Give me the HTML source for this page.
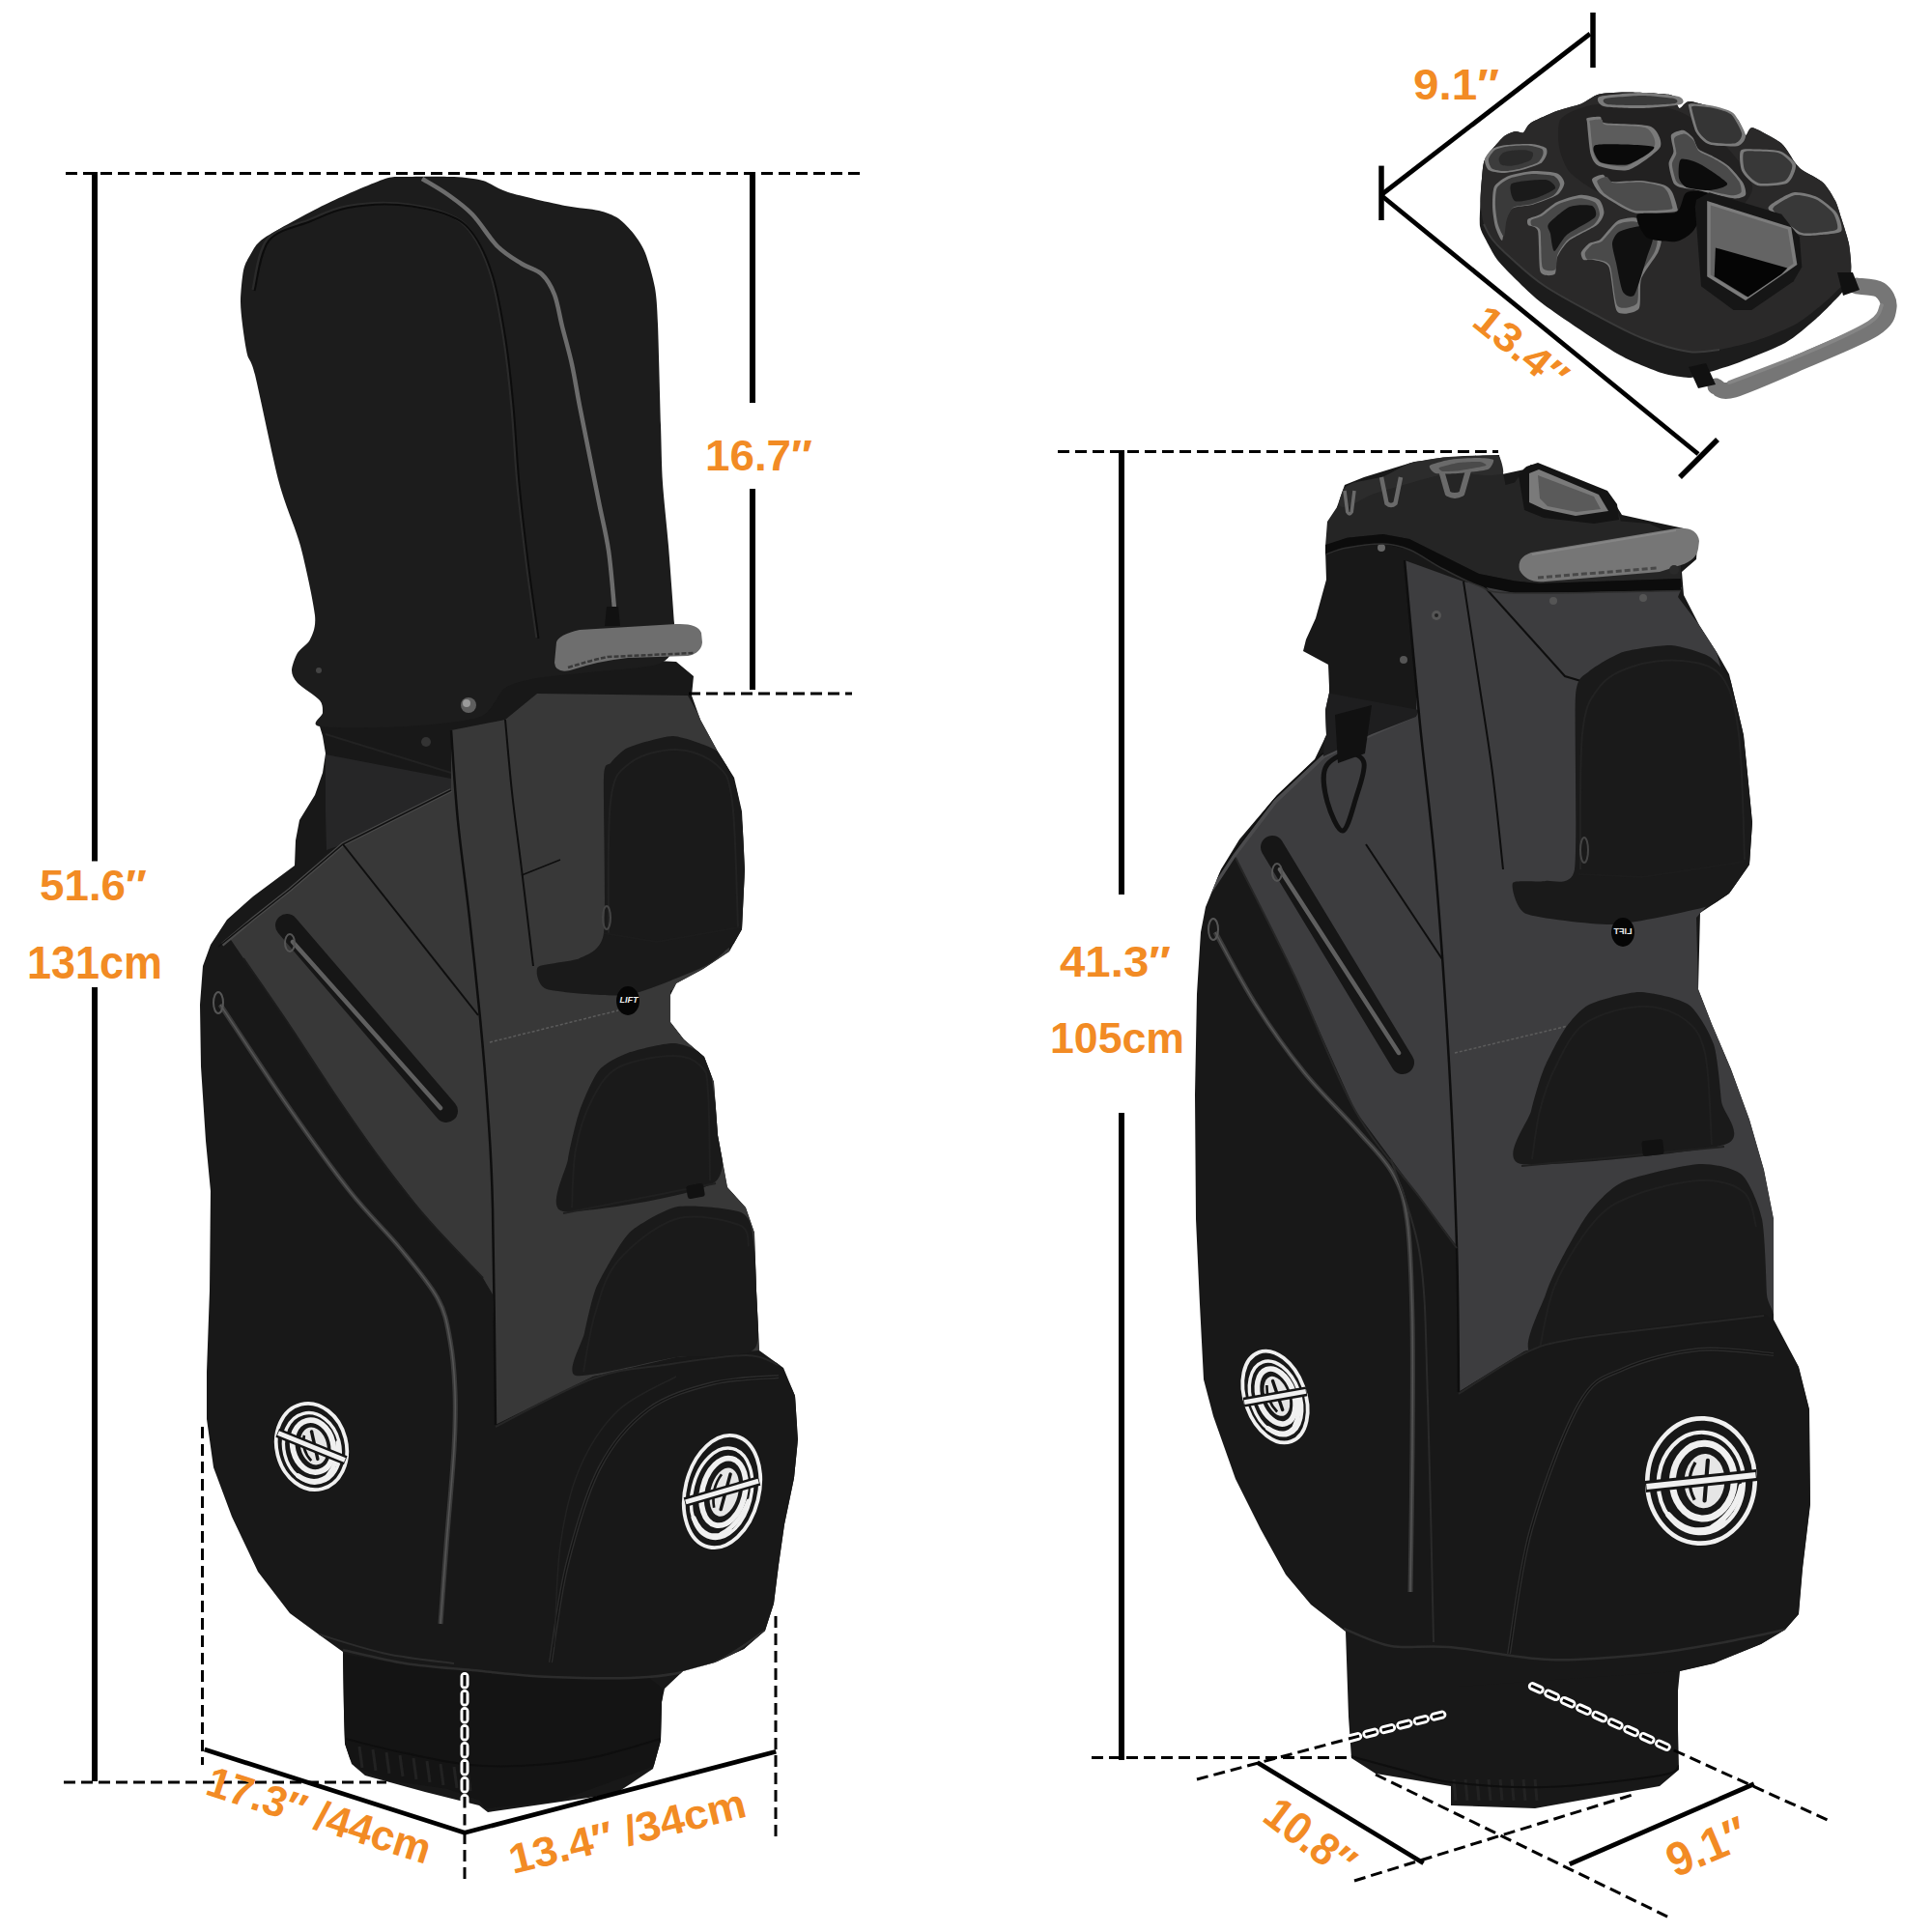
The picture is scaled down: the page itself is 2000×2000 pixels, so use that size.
<!DOCTYPE html>
<html><head><meta charset="utf-8"><style>
html,body{margin:0;padding:0;background:#fff;}
body{width:2000px;height:2000px;overflow:hidden;font-family:"Liberation Sans",sans-serif;}
svg{display:block;}
</style></head><body>
<svg xmlns="http://www.w3.org/2000/svg" width="2000" height="2000" viewBox="0 0 2000 2000">
<rect width="2000" height="2000" fill="#fff"/>
<path d="M331,752 L334,762 L337,780 L334,800 L326,823 L310,849 L306,870 L305,896 L262,928 L235,952 L218,978 L210,1000 L207,1040 L208,1104 L213,1181 L218,1233 L217,1336 L214,1420 L214,1469 L221,1519 L240,1570 L267,1627 L300,1670 L330,1692 L355,1710 L356,1772 L357,1805 L364,1826 L378,1838 L440,1855 L496,1869 L505,1876 L637,1857 L676,1831 L684,1802 L685,1762 L688,1748 L707,1730 L740,1721 L770,1707 L792,1688 L801,1660 L806,1620 L812,1578 L822,1530 L826,1490 L823,1445 L811,1416 L786,1398 L783,1336 L781,1276 L772,1250 L753,1229 L743,1175 L739,1120 L729,1094 L708,1076 L694,1058 L694,1030 L700,1018 L728,1003 L755,985 L768,962 L771,900 L768,840 L760,805 L743,778 L725,745 L716,720 L718,700 L700,685 L600,680 L540,680 L500,700 L420,720 L340,740Z" fill="#181818" />
<path d="M249,311 C249.1,303.5 250.7,286.3 252,280 C253.3,273.7 256.1,268.5 259,264 C261.9,259.5 263.7,252.9 274,246 C284.3,239.1 319.7,220.0 336,212 C352.3,204.0 384.9,189.9 396,186 C407.1,182.1 409.1,183.4 419,183 C428.9,182.6 459.2,182.5 470,183 C480.8,183.5 492.5,184.9 500,187 C507.5,189.1 514.7,195.5 526,199 C537.3,202.5 572.5,210.5 585,213 C597.5,215.5 612.7,216.3 620,218 C627.3,219.7 635.2,222.8 640,226 C644.8,229.2 652.3,237.2 656,242 C659.7,246.8 665.1,254.5 668,262 C670.9,269.5 676.3,288.1 678,298 C679.7,307.9 680.2,317.1 681,336 C681.8,354.9 683.3,418.1 684,440 C684.7,461.9 684.9,483.3 686,500 C687.1,516.7 690.4,545.7 692,565 C693.6,584.3 697.1,631.3 698,645 C698.9,658.7 701.4,662.3 699,668 C696.6,673.7 693.2,684.1 680,688 C666.8,691.9 616.5,695.1 600,697 C583.5,698.9 566.3,700.0 556,702 C545.7,704.0 530.9,706.7 523,712 C515.1,717.3 510.7,736.7 497,742 C483.3,747.3 442.1,750.7 420,752 C397.9,753.3 342.5,753.9 331,752 C319.5,750.1 334.0,741.6 334,738 C334.0,734.4 334.5,729.1 331,725 C327.5,720.9 311.9,711.1 308,707 C304.1,702.9 302.0,698.1 302,694 C302.0,689.9 305.5,680.3 308,676 C310.5,671.7 318.6,667.2 321,662 C323.4,656.8 327.3,649.9 326,637 C324.7,624.1 315.9,583.3 311,565 C306.1,546.7 295.3,523.6 289,500 C282.7,476.4 268.4,405.7 264,388 C259.6,370.3 257.7,373.9 256,367 C254.3,360.1 251.9,343.5 251,336 C250.1,328.5 248.9,318.5 249,311Z" fill="#1c1c1c" />
<clipPath id="cL"><path d="M331,752 L334,762 L337,780 L334,800 L326,823 L310,849 L306,870 L305,896 L262,928 L235,952 L218,978 L210,1000 L207,1040 L208,1104 L213,1181 L218,1233 L217,1336 L214,1420 L214,1469 L221,1519 L240,1570 L267,1627 L300,1670 L330,1692 L355,1710 L356,1772 L357,1805 L364,1826 L378,1838 L440,1855 L496,1869 L505,1876 L637,1857 L676,1831 L684,1802 L685,1762 L688,1748 L707,1730 L740,1721 L770,1707 L792,1688 L801,1660 L806,1620 L812,1578 L822,1530 L826,1490 L823,1445 L811,1416 L786,1398 L783,1336 L781,1276 L772,1250 L753,1229 L743,1175 L739,1120 L729,1094 L708,1076 L694,1058 L694,1030 L700,1018 L728,1003 L755,985 L768,962 L771,900 L768,840 L760,805 L743,778 L725,745 L716,720 L718,700 L700,685 L600,680 L540,680 L500,700 L420,720 L340,740Z"/><path d="M249,311 C249.1,303.5 250.7,286.3 252,280 C253.3,273.7 256.1,268.5 259,264 C261.9,259.5 263.7,252.9 274,246 C284.3,239.1 319.7,220.0 336,212 C352.3,204.0 384.9,189.9 396,186 C407.1,182.1 409.1,183.4 419,183 C428.9,182.6 459.2,182.5 470,183 C480.8,183.5 492.5,184.9 500,187 C507.5,189.1 514.7,195.5 526,199 C537.3,202.5 572.5,210.5 585,213 C597.5,215.5 612.7,216.3 620,218 C627.3,219.7 635.2,222.8 640,226 C644.8,229.2 652.3,237.2 656,242 C659.7,246.8 665.1,254.5 668,262 C670.9,269.5 676.3,288.1 678,298 C679.7,307.9 680.2,317.1 681,336 C681.8,354.9 683.3,418.1 684,440 C684.7,461.9 684.9,483.3 686,500 C687.1,516.7 690.4,545.7 692,565 C693.6,584.3 697.1,631.3 698,645 C698.9,658.7 701.4,662.3 699,668 C696.6,673.7 693.2,684.1 680,688 C666.8,691.9 616.5,695.1 600,697 C583.5,698.9 566.3,700.0 556,702 C545.7,704.0 530.9,706.7 523,712 C515.1,717.3 510.7,736.7 497,742 C483.3,747.3 442.1,750.7 420,752 C397.9,753.3 342.5,753.9 331,752 C319.5,750.1 334.0,741.6 334,738 C334.0,734.4 334.5,729.1 331,725 C327.5,720.9 311.9,711.1 308,707 C304.1,702.9 302.0,698.1 302,694 C302.0,689.9 305.5,680.3 308,676 C310.5,671.7 318.6,667.2 321,662 C323.4,656.8 327.3,649.9 326,637 C324.7,624.1 315.9,583.3 311,565 C306.1,546.7 295.3,523.6 289,500 C282.7,476.4 268.4,405.7 264,388 C259.6,370.3 257.7,373.9 256,367 C254.3,360.1 251.9,343.5 251,336 C250.1,328.5 248.9,318.5 249,311Z"/></clipPath>
<g clip-path="url(#cL)">
<path d="M262,300 C264.5,291.3 267.3,260.0 277,248 C286.7,236.0 306.3,233.7 320,228 C333.7,222.3 343.8,216.8 359,214 C374.2,211.2 393.7,209.7 411,211 C428.3,212.3 450.0,216.8 463,222 C476.0,227.2 481.3,231.3 489,242 C496.7,252.7 503.5,267.8 509,286 C514.5,304.2 518.5,328.7 522,351 C525.5,373.3 527.7,395.2 530,420 C532.3,444.8 533.5,473.3 536,500 C538.5,526.7 541.7,553.3 545,580 C548.3,606.7 554.2,646.7 556,660" fill="none" stroke="#2a2a2a" stroke-width="3.5" />
<path d="M263.5,301 C266.0,292.3 268.8,261.0 278.5,249 C288.2,237.0 307.8,234.7 321.5,229 C335.2,223.3 345.3,217.8 360.5,215 C375.7,212.2 395.2,210.7 412.5,212 C429.8,213.3 451.5,217.8 464.5,223 C477.5,228.2 482.8,232.3 490.5,243 C498.2,253.7 505.0,268.8 510.5,287 C516.0,305.2 520.0,329.7 523.5,352 C527.0,374.3 529.2,396.2 531.5,421 C533.8,445.8 535.0,474.3 537.5,501 C540.0,527.7 543.2,554.3 546.5,581 C549.8,607.7 555.7,647.7 557.5,661" fill="none" stroke="#0c0c0c" stroke-width="2" />
<path d="M437,185 C441.3,187.7 454.3,194.8 463,201 C471.7,207.2 480.3,213.0 489,222 C497.7,231.0 506.5,246.5 515,255 C523.5,263.5 532.3,268.2 540,273 C547.7,277.8 555.3,278.7 561,284 C566.7,289.3 570.5,296.0 574,305 C577.5,314.0 579.0,326.0 582,338 C585.0,350.0 589.0,363.3 592,377 C595.0,390.7 597.0,404.5 600,420 C603.0,435.5 606.7,453.3 610,470 C613.3,486.7 616.7,503.3 620,520 C623.3,536.7 627.3,551.7 630,570 C632.7,588.3 635.0,620.0 636,630" fill="none" stroke="#6c6c6c" stroke-width="4.5" />
<path d="M628,628 L640,628 L642,648 L626,648Z" fill="#111" />
<circle cx="485" cy="730" r="8" fill="#5e5e5e"/><circle cx="483" cy="728" r="4" fill="#9a9a9a"/>
<circle cx="330" cy="694" r="3" fill="#444"/>
<circle cx="441" cy="768" r="5" fill="#333"/>
<path d="M337,781 L467,806 L467,820 L355,874 L338,880 L337,840Z" fill="#262627" />
<path d="M337,760 L467,800" fill="none" stroke="#222" stroke-width="2" />
<path d="M237,970 L262,950 L300,921 L355,874 L467,818 L467,756 L523,745 L556,718 L712,720 L741,772 L752,800 L755,985 L728,1003 L694,1026 L694,1058 L708,1076 L729,1094 L739,1120 L743,1175 L753,1229 L772,1250 L781,1276 L783,1336 L786,1398 L700,1405 L614,1425 L513,1475 L512,1400 L510,1340 L500,1323 L440,1259 L390,1195 L344,1129 L300,1062 L252,992Z" fill="#383838" />
<path d="M230,978 L262,951 L300,921 L355,874 L467,818" fill="none" stroke="#4a4a4a" stroke-width="4" />
<path d="M226,980 L262,951 L300,921 L355,874 L467,818" fill="none" stroke="#111" stroke-width="1.5" />
<path d="M467,756 C468.2,771.7 470.8,817.7 474,850 C477.2,882.3 482.2,916.0 486,950 C489.8,984.0 493.8,1020.7 497,1054 C500.2,1087.3 502.8,1117.3 505,1150 C507.2,1182.7 508.7,1195.8 510,1250 C511.3,1304.2 512.5,1437.5 513,1475" fill="none" stroke="#0e0e0e" stroke-width="2.5" />
<path d="M523,745 C524.2,757.5 527.2,794.2 530,820 C532.8,845.8 536.3,870.0 540,900 C543.7,930.0 550.0,983.3 552,1000" fill="none" stroke="#0e0e0e" stroke-width="2" />
<path d="M355,874 L495,1051" fill="none" stroke="#0e0e0e" stroke-width="2" />
<path d="M507,1079 L640,1046" fill="none" stroke="#5c5c5c" stroke-width="1.5" stroke-dasharray="3 2"/>
<path d="M540,906 L580,890" fill="none" stroke="#0e0e0e" stroke-width="1.5" />
<path d="M297,958 L462,1150" fill="none" stroke="#161616" stroke-width="24" stroke-linecap="round"/>
<path d="M303,975 L456,1147" fill="none" stroke="#5f5f5f" stroke-width="4.5" stroke-linecap="round"/>
<ellipse cx="300" cy="976" rx="5" ry="9" fill="none" stroke="#555" stroke-width="2"/>
<path d="M228,1040 C239.7,1057.5 275.7,1112.8 298,1145 C320.3,1177.2 342.7,1208.5 362,1233 C381.3,1257.5 398.8,1273.5 414,1292 C429.2,1310.5 444.3,1328.0 453,1344 C461.7,1360.0 463.0,1372.0 466,1388 C469.0,1404.0 470.3,1421.3 471,1440 C471.7,1458.7 471.5,1473.3 470,1500 C468.5,1526.7 464.3,1569.8 462,1600 C459.7,1630.2 457.0,1667.5 456,1681" fill="none" stroke="#3a3a3a" stroke-width="5" />
<path d="M228,1040 C239.7,1057.5 275.7,1112.8 298,1145 C320.3,1177.2 342.7,1208.5 362,1233 C381.3,1257.5 398.8,1273.5 414,1292 C429.2,1310.5 444.3,1328.0 453,1344 C461.7,1360.0 463.0,1372.0 466,1388 C469.0,1404.0 470.3,1421.3 471,1440 C471.7,1458.7 471.5,1473.3 470,1500 C468.5,1526.7 464.3,1569.8 462,1600 C459.7,1630.2 457.0,1667.5 456,1681" fill="none" stroke="#555" stroke-width="1.5" />
<ellipse cx="226" cy="1038" rx="5" ry="11" fill="none" stroke="#555" stroke-width="2"/>
<path d="M252,992 C260.0,1003.7 284.7,1039.2 300,1062 C315.3,1084.8 329.0,1106.8 344,1129 C359.0,1151.2 374.0,1173.3 390,1195 C406.0,1216.7 421.7,1237.7 440,1259 C458.3,1280.3 490.0,1312.3 500,1323" fill="none" stroke="#1c1c1c" stroke-width="2" />
<path d="M625,805 C625.7,787.4 629.5,793.1 632,790 C634.5,786.9 643.5,776.8 650,774 C656.5,771.2 687.7,761.6 697,762 C706.3,762.4 736.5,772.7 743,778 C749.5,783.3 759.3,806.1 762,815 C764.7,823.9 769.2,852.4 770,867 C770.8,881.6 772.0,949.2 770,961 C768.0,972.8 754.2,981.0 750,985 C745.8,989.0 738.0,996.5 728,1001 C718.0,1005.5 666.2,1027.7 650,1030 C633.8,1032.3 575.3,1026.9 566,1024 C556.7,1021.1 553.6,1004.2 557,1001 C560.4,997.8 593.2,995.5 600,992 C606.8,988.5 622.5,984.7 625,966 C627.5,947.3 624.3,822.6 625,805Z" fill="#1a1a1a" />
<path d="M630,968 C630.3,945.0 628.3,859.7 632,830 C635.7,800.3 640.7,799.0 652,790 C663.3,781.0 685.0,775.7 700,776 C715.0,776.3 732.3,783.0 742,792 C751.7,801.0 754.3,802.0 758,830 C761.7,858.0 763.0,938.3 764,960" fill="none" stroke="#222" stroke-width="2" />
<path d="M625,966 L680,975 L766,960" fill="none" stroke="#1c1c1c" stroke-width="2" />
<ellipse cx="628" cy="950" rx="4" ry="12" fill="none" stroke="#444" stroke-width="2"/>
<ellipse cx="650" cy="1036" rx="12" ry="15" fill="#050505"/>
<text x="651" y="1038" font-family="Liberation Sans" font-weight="bold" font-size="9" fill="#eee" text-anchor="middle" font-style="italic">LIFT</text>
<path d="M583,1254 C565.1,1251.3 586.0,1212.1 588,1200 C590.0,1187.9 596.3,1160.7 600,1150 C603.7,1139.3 614.2,1115.0 620,1108 C625.8,1101.0 641.0,1093.3 650,1090 C659.0,1086.7 687.9,1079.8 697,1080 C706.1,1080.2 723.2,1086.8 728,1092 C732.8,1097.2 736.5,1109.7 738,1125 C739.5,1140.3 759.1,1208.0 741,1223 C722.9,1238.0 600.9,1256.7 583,1254Z" fill="#1a1a1a" />
<path d="M592,1250 C592.7,1240.0 592.7,1208.3 596,1190 C599.3,1171.7 604.7,1154.2 612,1140 C619.3,1125.8 625.8,1112.8 640,1105 C654.2,1097.2 682.7,1093.2 697,1093 C711.3,1092.8 720.0,1097.8 726,1104 C732.0,1110.2 731.5,1110.3 733,1130 C734.5,1149.7 734.7,1206.7 735,1222" fill="none" stroke="#202020" stroke-width="2" />
<path d="M583,1256 L741,1225" fill="none" stroke="#202020" stroke-width="2" />
<path d="M596,1424 C584.9,1421.1 602.7,1390.3 605,1380 C607.3,1369.7 612.5,1345.3 616,1336 C619.5,1326.7 630.5,1307.3 635,1300 C639.5,1292.7 647.2,1279.0 655,1273 C662.8,1267.0 688.9,1251.1 702,1249 C715.1,1246.9 757.9,1250.8 767,1255 C776.1,1259.2 778.2,1268.7 780,1285 C781.8,1301.3 791.3,1381.0 782,1395 C772.7,1409.0 721.7,1401.6 700,1405 C678.3,1408.4 607.1,1426.9 596,1424Z" fill="#1a1a1a" />
<path d="M604,1420 C606.0,1410.0 610.0,1379.2 616,1360 C622.0,1340.8 626.0,1321.3 640,1305 C654.0,1288.7 679.2,1268.2 700,1262 C720.8,1255.8 752.5,1263.3 765,1268 C777.5,1272.7 773.3,1286.3 775,1290" fill="none" stroke="#202020" stroke-width="2" />
<rect x="711" y="1226" width="18" height="14" rx="3" fill="#111" transform="rotate(-10 720 1233)"/>
<path d="M513,1475 L614,1425 L688,1411 L772,1401 L806,1411 L824,1445 L826,1500 L826,1720 L513,1720Z" fill="#181818" />
<path d="M513,1477 C529.8,1468.7 584.8,1437.7 614,1427 C643.2,1416.3 661.7,1417.0 688,1413 C714.3,1409.0 752.3,1403.0 772,1403 C791.7,1403.0 800.3,1411.3 806,1413" fill="none" stroke="#262626" stroke-width="2" />
<path d="M570,1721 C572.8,1704.2 578.5,1653.7 587,1620 C595.5,1586.3 607.0,1545.8 621,1519 C635.0,1492.2 651.5,1473.5 671,1459 C690.5,1444.5 715.5,1437.7 738,1432 C760.5,1426.3 794.7,1426.2 806,1425" fill="none" stroke="#2c2c2c" stroke-width="4" />
<path d="M570,1721 C572.8,1704.2 578.5,1653.7 587,1620 C595.5,1586.3 607.0,1545.8 621,1519 C635.0,1492.2 651.5,1473.5 671,1459 C690.5,1444.5 715.5,1437.7 738,1432 C760.5,1426.3 794.7,1426.2 806,1425" fill="none" stroke="#111" stroke-width="1.2" />
<path d="M574,1705 C575.0,1687.5 575.7,1630.8 580,1600 C584.3,1569.2 590.0,1543.3 600,1520 C610.0,1496.7 623.3,1475.8 640,1460 C656.7,1444.2 690.0,1430.8 700,1425" fill="none" stroke="#222" stroke-width="1.5" />
<path d="M355,1712 L420,1724 L489,1729 L570,1736 L671,1736 L686,1748 L685,1802 L688,1825 L675,1829 L579,1864 L502,1872 L497,1864 L464,1852 L401,1843 L368,1829 L357,1814 L355,1776Z" fill="#141414" />
<path d="M1393,1689 L1440,1705 L1500,1706 L1604,1719 L1700,1714 L1739,1730 L1737,1790 L1738,1832 L1718,1849 L1589,1872 L1502,1869 L1502,1849 L1424,1836 L1399,1820 L1396,1777Z" fill="#141414" />
<path d="M355,1708 C365.8,1710.3 397.7,1718.5 420,1722 C442.3,1725.5 464.0,1726.7 489,1729 C514.0,1731.3 539.7,1734.8 570,1736 C600.3,1737.2 643.0,1738.3 671,1736 C699.0,1733.7 717.8,1730.0 738,1722 C758.2,1714.0 783.0,1693.7 792,1688" fill="none" stroke="#2c2c2c" stroke-width="2.5" />
<path d="M330,1692 C341.7,1695.3 376.7,1707.0 400,1712 C423.3,1717.0 458.3,1720.3 470,1722" fill="none" stroke="#2c2c2c" stroke-width="2" />
<path d="M372,1808 l3,22" stroke="#222" stroke-width="3"/>
<path d="M386,1811 l3,22" stroke="#222" stroke-width="3"/>
<path d="M400,1814 l3,22" stroke="#222" stroke-width="3"/>
<path d="M414,1817 l3,22" stroke="#222" stroke-width="3"/>
<path d="M428,1820 l3,22" stroke="#222" stroke-width="3"/>
<path d="M442,1823 l3,22" stroke="#222" stroke-width="3"/>
<path d="M456,1826 l3,22" stroke="#222" stroke-width="3"/>
<path d="M470,1829 l3,22" stroke="#222" stroke-width="3"/>
<path d="M484,1832 l3,22" stroke="#222" stroke-width="3"/>
<path d="M358,1800 C368.3,1802.5 396.3,1810.3 420,1815 C443.7,1819.7 470.0,1826.8 500,1828 C530.0,1829.2 569.3,1826.7 600,1822 C630.7,1817.3 670.0,1803.7 684,1800" fill="none" stroke="#0e0e0e" stroke-width="2" />
</g>
<path d="M576,665 Q578,657 600,652 L700,646 Q722,645 726,655 L727,665 Q726,676 712,679 L650,681 Q620,684 590,694 Q575,697 574,686 Z" fill="#6e6e6e"/>
<path d="M588,691 Q610,684 629,680 L718,676" fill="none" stroke="#3a3a3a" stroke-width="2.5" stroke-dasharray="5 2"/>
<path d="M1384,525 L1392,502 L1412,494 L1464,478 L1516,472 L1552,471 L1555,491 L1578,486 L1585,481 L1666,512 L1679,533 L1715,541 L1743,547 L1757,564 L1756,579 L1741,592 L1743,616 L1759,647 L1777,675 L1790,698 L1805,761 L1814,851 L1811,895 L1790,925 L1760,945 L1758,1024 L1772,1060 L1792,1107 L1811,1159 L1826,1211 L1836,1262 L1836,1340 L1836,1366 L1862,1415 L1873,1459 L1874,1557 L1866,1624 L1862,1671 L1848,1687 L1823,1702 L1774,1722 L1739,1730 L1737,1750 L1737,1790 L1738,1832 L1718,1849 L1589,1872 L1502,1869 L1502,1849 L1424,1836 L1399,1820 L1396,1777 L1393,1689 L1357,1661 L1331,1630 L1305,1583 L1279,1531 L1256,1466 L1246,1428 L1242,1350 L1238,1262 L1237,1133 L1239,1029 L1243,965 L1248,939 L1264,900 L1283,869 L1322,823 L1361,786 L1373,761 L1372,735 L1376,717 L1376,711 L1375,688 L1349,674 L1352,662 L1362,640 L1373,600 L1372,569 L1383,554Z" fill="#181818" />
<clipPath id="cR"><path d="M1384,525 L1392,502 L1412,494 L1464,478 L1516,472 L1552,471 L1555,491 L1578,486 L1585,481 L1666,512 L1679,533 L1715,541 L1743,547 L1757,564 L1756,579 L1741,592 L1743,616 L1759,647 L1777,675 L1790,698 L1805,761 L1814,851 L1811,895 L1790,925 L1760,945 L1758,1024 L1772,1060 L1792,1107 L1811,1159 L1826,1211 L1836,1262 L1836,1340 L1836,1366 L1862,1415 L1873,1459 L1874,1557 L1866,1624 L1862,1671 L1848,1687 L1823,1702 L1774,1722 L1739,1730 L1737,1750 L1737,1790 L1738,1832 L1718,1849 L1589,1872 L1502,1869 L1502,1849 L1424,1836 L1399,1820 L1396,1777 L1393,1689 L1357,1661 L1331,1630 L1305,1583 L1279,1531 L1256,1466 L1246,1428 L1242,1350 L1238,1262 L1237,1133 L1239,1029 L1243,965 L1248,939 L1264,900 L1283,869 L1322,823 L1361,786 L1373,761 L1372,735 L1376,717 L1376,711 L1375,688 L1349,674 L1352,662 L1362,640 L1373,600 L1372,569 L1383,554Z"/></clipPath>
<g clip-path="url(#cR)">
<path d="M1370,783 L1420,760 L1466,740 L1466,700 L1460,640 L1454,580 L1515,602 L1562,611 L1741,608 L1737,618 L1759,647 L1777,675 L1800,760 L1800,900 L1756,950 L1758,1024 L1772,1060 L1792,1107 L1811,1159 L1826,1211 L1836,1262 L1836,1360 L1733,1371 L1629,1384 L1578,1399 L1510,1441 L1508,1290 L1470,1240 L1403,1150 L1340,1010 L1278,885 L1320,830Z" fill="#3d3d3f" />
<path d="M1245,935 L1278,885 L1320,830 L1370,783 L1420,760 L1466,740" fill="none" stroke="#4b4b4d" stroke-width="4" />
<path d="M1241,937 L1276,884 L1318,828 L1368,781 L1420,757 L1466,737" fill="none" stroke="#111" stroke-width="1.5" />
<path d="M1373,717 L1469,735 L1466,742 L1420,760 L1370,783 L1372,735Z" fill="#1e1e1f" />
<path d="M1454,580 C1456.7,608.3 1464.7,696.7 1470,750 C1475.3,803.3 1481.0,841.7 1486,900 C1491.0,958.3 1496.3,1035.0 1500,1100 C1503.7,1165.0 1506.3,1233.2 1508,1290 C1509.7,1346.8 1509.7,1415.8 1510,1441" fill="none" stroke="#0e0e0e" stroke-width="2.5" />
<path d="M1515,602 C1517.5,618.3 1525.0,667.0 1530,700 C1535.0,733.0 1540.7,766.7 1545,800 C1549.3,833.3 1554.2,883.3 1556,900" fill="none" stroke="#0e0e0e" stroke-width="2" />
<path d="M1414,874 L1493,993" fill="none" stroke="#0e0e0e" stroke-width="2" />
<path d="M1506,1090 L1640,1058" fill="none" stroke="#5c5c5c" stroke-width="1.5" stroke-dasharray="3 2"/>
<path d="M1530,600 L1620,700 L1640,706" fill="none" stroke="#0e0e0e" stroke-width="2" />
<path d="M1317,877 L1452,1100" fill="none" stroke="#161616" stroke-width="24" stroke-linecap="round"/>
<path d="M1325,900 L1448,1090" fill="none" stroke="#5f5f5f" stroke-width="4.5" stroke-linecap="round"/>
<ellipse cx="1322" cy="903" rx="5" ry="9" fill="none" stroke="#555" stroke-width="2"/>
<path d="M1258,965 C1265.0,977.5 1284.7,1015.8 1300,1040 C1315.3,1064.2 1332.5,1088.3 1350,1110 C1367.5,1131.7 1389.7,1152.5 1405,1170 C1420.3,1187.5 1433.3,1199.2 1442,1215 C1450.7,1230.8 1453.7,1239.8 1457,1265 C1460.3,1290.2 1461.2,1326.8 1462,1366 C1462.8,1405.2 1462.3,1453.0 1462,1500 C1461.7,1547.0 1460.3,1623.3 1460,1648" fill="none" stroke="#3a3a3a" stroke-width="5" />
<path d="M1258,965 C1265.0,977.5 1284.7,1015.8 1300,1040 C1315.3,1064.2 1332.5,1088.3 1350,1110 C1367.5,1131.7 1389.7,1152.5 1405,1170 C1420.3,1187.5 1433.3,1199.2 1442,1215 C1450.7,1230.8 1453.7,1239.8 1457,1265 C1460.3,1290.2 1461.2,1326.8 1462,1366 C1462.8,1405.2 1462.3,1453.0 1462,1500 C1461.7,1547.0 1460.3,1623.3 1460,1648" fill="none" stroke="#555" stroke-width="1.5" />
<ellipse cx="1256" cy="962" rx="5" ry="11" fill="none" stroke="#555" stroke-width="2"/>
<path d="M1279,888 C1289.2,908.3 1319.3,966.3 1340,1010 C1360.7,1053.7 1381.3,1111.7 1403,1150 C1424.7,1188.3 1452.5,1216.3 1470,1240 C1487.5,1263.7 1501.7,1283.3 1508,1292" fill="none" stroke="#262626" stroke-width="2" />
<path d="M1440,1200 C1445.0,1216.7 1463.7,1258.3 1470,1300 C1476.3,1341.7 1475.7,1383.3 1478,1450 C1480.3,1516.7 1483.0,1658.3 1484,1700" fill="none" stroke="#2a2a2a" stroke-width="2" />
<circle cx="1430" cy="567" r="4" fill="#666"/><circle cx="1453" cy="683" r="4" fill="#555"/><circle cx="1487" cy="637" r="5" fill="#555"/><circle cx="1487" cy="637" r="2" fill="#222"/>
<circle cx="1608" cy="622" r="4" fill="#555"/><circle cx="1701" cy="619" r="4" fill="#555"/>
<path d="M1372,795 C1368.5,803.3 1371.0,819.2 1374,830 C1377.0,840.8 1385.0,860.8 1390,860 C1395.0,859.2 1400.3,836.7 1404,825 C1407.7,813.3 1413.5,797.5 1412,790 C1410.5,782.5 1401.7,779.2 1395,780 C1388.3,780.8 1375.5,786.7 1372,795Z" fill="none" stroke="#111" stroke-width="5" />
<path d="M1382,740 L1420,730 L1413,780 L1385,790Z" fill="#111" />
<path d="M1631,720 C1632.5,699.5 1640.1,699.5 1645,695 C1649.9,690.5 1671.5,677.7 1680,675 C1688.5,672.3 1721.0,667.5 1730,668 C1739.0,668.5 1763.5,675.8 1770,680 C1776.5,684.2 1791.5,701.9 1795,710 C1798.5,718.1 1803.1,746.9 1805,761 C1806.9,775.1 1813.4,837.6 1814,851 C1814.6,864.4 1813.4,887.6 1811,895 C1808.6,902.4 1794.6,920.6 1790,925 C1785.4,929.4 1776.9,935.8 1765,939 C1753.1,942.2 1689.5,956.3 1671,957 C1652.5,957.7 1590.5,950.3 1580,946 C1569.5,941.7 1564.0,917.4 1566,914 C1568.0,910.6 1593.6,913.4 1600,912 C1606.4,910.6 1626.9,919.2 1630,900 C1633.1,880.8 1629.5,740.5 1631,720Z" fill="#1a1a1a" />
<path d="M1636,900 C1636.3,876.7 1634.8,791.3 1638,760 C1641.2,728.7 1646.3,723.7 1655,712 C1663.7,700.3 1675.8,694.7 1690,690 C1704.2,685.3 1724.7,682.3 1740,684 C1755.3,685.7 1772.0,687.3 1782,700 C1792.0,712.7 1796.0,728.3 1800,760 C1804.0,791.7 1805.0,868.3 1806,890" fill="none" stroke="#222" stroke-width="2" />
<path d="M1634,905 L1700,908 L1806,892" fill="none" stroke="#1c1c1c" stroke-width="2" />
<ellipse cx="1640" cy="880" rx="4" ry="13" fill="none" stroke="#444" stroke-width="2"/>
<ellipse cx="1680" cy="965" rx="12" ry="15" fill="#050505"/>
<text x="1680" y="967" font-family="Liberation Sans" font-weight="bold" font-size="9" fill="#eee" text-anchor="middle" transform="scale(-1,1) translate(-3360,0)">LIFT</text>
<path d="M1575,1205 C1551.7,1200.9 1582.3,1161.4 1585,1150 C1587.7,1138.6 1593.9,1116.9 1598,1107 C1602.1,1097.1 1614.5,1072.8 1620,1065 C1625.5,1057.2 1636.0,1044.4 1645,1040 C1654.0,1035.6 1685.0,1027.0 1697,1027 C1709.0,1027.0 1739.0,1033.7 1748,1040 C1757.0,1046.3 1770.0,1069.3 1774,1081 C1778.0,1092.7 1780.7,1127.9 1782,1140 C1783.3,1152.1 1809.2,1177.4 1785,1185 C1760.8,1192.6 1598.3,1209.1 1575,1205Z" fill="#1a1a1a" />
<path d="M1586,1200 C1587.3,1191.7 1590.0,1165.8 1594,1150 C1598.0,1134.2 1602.3,1120.0 1610,1105 C1617.7,1090.0 1625.5,1070.5 1640,1060 C1654.5,1049.5 1680.0,1043.0 1697,1042 C1714.0,1041.0 1730.7,1046.0 1742,1054 C1753.3,1062.0 1760.0,1068.2 1765,1090 C1770.0,1111.8 1770.8,1169.2 1772,1185" fill="none" stroke="#202020" stroke-width="2" />
<path d="M1575,1207 L1785,1187" fill="none" stroke="#202020" stroke-width="2" />
<rect x="1700" y="1180" width="22" height="16" rx="3" fill="#111" transform="rotate(-6 1711 1188)"/>
<path d="M1585,1400 C1573.3,1395.6 1596.4,1351.2 1600,1340 C1603.6,1328.8 1610.8,1313.9 1616,1304 C1621.2,1294.1 1637.4,1264.5 1645,1255 C1652.6,1245.5 1667.7,1228.8 1681,1223 C1694.3,1217.2 1744.8,1205.8 1759,1205 C1773.2,1204.2 1795.4,1209.3 1803,1216 C1810.6,1222.7 1821.0,1247.5 1824,1262 C1827.0,1276.5 1828.4,1327.6 1829,1340 C1829.6,1352.4 1844.0,1363.6 1829,1368 C1814.0,1372.4 1728.5,1374.3 1700,1378 C1671.5,1381.7 1596.7,1404.4 1585,1400Z" fill="#1a1a1a" />
<path d="M1594,1396 C1596.7,1385.0 1600.7,1351.8 1610,1330 C1619.3,1308.2 1636.7,1280.3 1650,1265 C1663.3,1249.7 1671.7,1245.2 1690,1238 C1708.3,1230.8 1740.8,1222.7 1760,1222 C1779.2,1221.3 1795.3,1226.0 1805,1234 C1814.7,1242.0 1815.8,1264.0 1818,1270" fill="none" stroke="#202020" stroke-width="2" />
<path d="M1510,1441 L1578,1399 L1629,1384 L1733,1371 L1826,1360 L1834,1366 L1862,1415 L1873,1459 L1874,1557 L1866,1624 L1862,1671 L1848,1687 L1823,1702 L1774,1722 L1739,1730 L1510,1746Z" fill="#181818" />
<path d="M1510,1443 C1521.3,1436.0 1558.2,1410.5 1578,1401 C1597.8,1391.5 1603.2,1390.7 1629,1386 C1654.8,1381.3 1700.2,1377.0 1733,1373 C1765.8,1369.0 1810.5,1363.8 1826,1362" fill="none" stroke="#262626" stroke-width="2" />
<path d="M1562,1712 C1565.8,1690.5 1572.8,1626.2 1585,1583 C1597.2,1539.8 1619.0,1480.7 1635,1453 C1651.0,1425.3 1660.3,1426.3 1681,1417 C1701.7,1407.7 1733.2,1399.5 1759,1397 C1784.8,1394.5 1823.2,1401.2 1836,1402" fill="none" stroke="#2c2c2c" stroke-width="4" />
<path d="M1562,1712 C1565.8,1690.5 1572.8,1626.2 1585,1583 C1597.2,1539.8 1619.0,1480.7 1635,1453 C1651.0,1425.3 1660.3,1426.3 1681,1417 C1701.7,1407.7 1733.2,1399.5 1759,1397 C1784.8,1394.5 1823.2,1401.2 1836,1402" fill="none" stroke="#111" stroke-width="1.2" />
<path d="M1391,1686 C1399.2,1689.0 1421.8,1700.8 1440,1704 C1458.2,1707.2 1472.7,1702.7 1500,1705 C1527.3,1707.3 1570.7,1716.7 1604,1718 C1637.3,1719.3 1671.7,1715.7 1700,1713 C1728.3,1710.3 1749.3,1706.3 1774,1702 C1798.7,1697.7 1835.7,1689.5 1848,1687" fill="none" stroke="#2c2c2c" stroke-width="2.5" />
<path d="M1505,1842 l2,22" stroke="#222" stroke-width="3"/>
<path d="M1517,1842 l2,22" stroke="#222" stroke-width="3"/>
<path d="M1529,1842 l2,22" stroke="#222" stroke-width="3"/>
<path d="M1541,1842 l2,22" stroke="#222" stroke-width="3"/>
<path d="M1553,1842 l2,22" stroke="#222" stroke-width="3"/>
<path d="M1565,1842 l2,22" stroke="#222" stroke-width="3"/>
<path d="M1577,1842 l2,22" stroke="#222" stroke-width="3"/>
<path d="M1589,1842 l2,22" stroke="#222" stroke-width="3"/>
<path d="M1398,1818 C1406.7,1820.3 1432.7,1827.5 1450,1832 C1467.3,1836.5 1477.0,1842.0 1502,1845 C1527.0,1848.0 1564.0,1851.2 1600,1850 C1636.0,1848.8 1695.0,1841.7 1718,1838 C1741.0,1834.3 1734.7,1829.7 1738,1828" fill="none" stroke="#0e0e0e" stroke-width="2" />
</g>
<path d="M1372,566 L1374,540 L1386,522 L1391,506 L1402,499.6 L1432,493.4 L1459,479.8 L1494,473.5 L1538.6,471.8 L1552,472.8 L1556,489.7 L1558.5,502 L1568,499.6 L1578,484.7 L1590.8,481 L1662.8,509.6 L1672.8,522 L1677.8,539.4 L1707.6,541.9 L1717.5,546.8 L1740,560 L1740,599 L1593,604 L1568.4,601.5 L1531,594 L1494,575.4 L1459,558 L1431.8,553 L1394.5,556.8Z" fill="#252525" />
<path d="M1386,522 C1385.6,520.1 1389.4,508.2 1391,506 C1392.6,503.8 1397.9,500.9 1402,499.6 C1406.1,498.3 1426.3,495.4 1432,493.4 C1437.7,491.4 1452.8,481.8 1459,479.8 C1465.2,477.8 1486.0,474.3 1494,473.5 C1502.0,472.7 1532.8,471.9 1538.6,471.8 C1544.4,471.7 1550.3,471.0 1552,472.8 C1553.7,474.6 1557.2,487.8 1556,489.7 C1554.8,491.6 1545.6,492.0 1540,492 C1534.4,492.0 1508.0,489.2 1500,490 C1492.0,490.8 1468.0,497.8 1460,500 C1452.0,502.2 1426.5,509.5 1420,512 C1413.5,514.5 1398.4,524.0 1395,525 C1391.6,526.0 1386.4,523.9 1386,522Z" fill="#2c2c2c" />
<path d="M1392,508 L1394.75,530 Q1397,534 1399.25,530 L1402,508" fill="none" stroke="#6a6a6a" stroke-width="3.5" stroke-linejoin="round"/>
<path d="M1430,494 L1435.5,521 Q1440,525 1444.5,521 L1450,494" fill="none" stroke="#6a6a6a" stroke-width="4.5" stroke-linejoin="round"/>
<path d="M1490,480 L1498.8,511 Q1506,515 1513.2,511 L1522,480" fill="none" stroke="#6a6a6a" stroke-width="6" stroke-linejoin="round"/>
<path d="M1480,482 C1481.4,480.6 1495.0,476.8 1500,476 C1505.0,475.2 1525.4,474.0 1530,474 C1534.6,474.0 1545.0,474.8 1546,476 C1547.0,477.2 1543.6,484.6 1540,486 C1536.4,487.4 1515.4,489.6 1510,490 C1504.6,490.4 1489.0,490.8 1486,490 C1483.0,489.2 1478.6,483.4 1480,482Z" fill="#6a6a6a" />
<path d="M1490,484 C1491.6,483.1 1505.8,479.6 1510,479 C1514.2,478.4 1529.2,477.7 1532,478 C1534.8,478.3 1540.0,481.1 1538,482 C1536.0,482.9 1516.4,486.4 1512,487 C1507.6,487.6 1496.2,488.3 1494,488 C1491.8,487.7 1488.4,484.9 1490,484Z" fill="#4a4a4a" />
<path d="M1572,492 L1580,483 L1592,479 L1664,508 L1674,522 L1676,538 L1650,542 L1598,536 L1578,528Z" fill="#141414" />
<path d="M1583,490 L1593,486 L1655,512 L1665,529 L1631,534 L1598,527 L1583,520Z" fill="#7a7a7a" />
<path d="M1592,492 L1650,514 L1657,527 L1632,530 L1602,524 L1594,516Z" fill="#5a5a5a" />
<path d="M1372,564 L1394.5,556.8 L1431.8,553 L1459,558 L1494,575.4 L1531,594 L1568.4,601.5 L1593,604 L1740,599 L1740,611.4 L1568.4,614 L1531,606.5 L1494,589 L1459,569 L1431.8,563 L1394.5,567 L1372,574Z" fill="#0c0c0c" />
<path d="M1372,574 C1375.8,572.8 1384.5,568.8 1394.5,567 C1404.5,565.2 1421.0,562.7 1431.8,563 C1442.5,563.3 1448.6,564.7 1459,569 C1469.4,573.3 1482.0,582.8 1494,589 C1506.0,595.2 1518.6,602.3 1531,606.5 C1543.4,610.7 1533.6,613.2 1568.4,614 C1603.2,614.8 1711.4,611.8 1740,611.4" fill="none" stroke="#2e2e2e" stroke-width="1.5" />
<path d="M1573,590 Q1570,577 1585,572 L1735,547 Q1757,545 1759,560 L1758,568 Q1756,580 1740,585 L1718,592 L1600,602 Q1580,604 1573,590 Z" fill="#767676"/>
<path d="M1592,598 L1715,588" stroke="#484848" stroke-width="3" stroke-dasharray="6 3"/>
<path d="M1586,574 L1735,549" stroke="#858585" stroke-width="2"/>
<circle cx="1733" cy="590" r="5" fill="#2a2a2a"/>
<path d="M1532.5,209 C1532.7,203.3 1533.4,190.2 1534,185 C1534.6,179.8 1534.8,169.5 1537.4,164.5 C1540.0,159.5 1552.4,145.3 1556,142 C1559.6,138.7 1566.0,136.6 1568.5,136 C1571.0,135.4 1575.1,138.2 1577,137.2 C1578.9,136.2 1580.5,129.9 1584.6,127.3 C1588.7,124.7 1605.9,117.1 1612,114.8 C1618.1,112.5 1631.7,109.4 1636.8,107.4 C1641.9,105.4 1649.6,98.9 1655.4,97.5 C1661.2,96.1 1678.5,95.6 1686.5,95.6 C1694.5,95.6 1718.4,97.0 1723.8,97.5 C1729.2,98.0 1730.7,98.3 1732.4,100 C1734.1,101.7 1736.6,111.4 1738.6,112 C1740.6,112.6 1744.0,104.4 1749.8,104.9 C1755.6,105.4 1782.5,113.7 1788.3,116 C1794.1,118.3 1797.3,122.0 1799.5,124.8 C1801.7,127.6 1805.3,139.1 1807,140 C1808.7,140.9 1810.1,131.2 1814.4,132.2 C1818.7,133.2 1839.1,144.2 1844.2,148.4 C1849.3,152.6 1855.4,164.8 1857.9,168 C1860.4,171.2 1861.8,173.2 1865.3,175.7 C1868.8,178.2 1883.7,185.6 1887.7,189.4 C1891.7,193.2 1897.8,203.7 1900,208 C1902.2,212.3 1904.7,221.5 1906.3,226.6 C1907.9,231.7 1912.6,245.7 1913.8,251.5 C1915.0,257.3 1916.2,271.7 1916.3,276.3 C1916.4,280.9 1916.3,287.9 1915,291.2 C1913.7,294.5 1909.1,300.5 1905,305 C1900.9,309.5 1886.7,324.2 1880,330 C1873.3,335.8 1857.6,349.6 1848,355 C1838.4,360.4 1808.3,372.1 1798,376 C1787.7,379.9 1765.8,386.2 1760,388 C1754.2,389.8 1752.7,391.2 1748,391 C1743.3,390.8 1728.6,388.9 1720,386 C1711.4,383.1 1688.1,374.2 1674,366 C1659.9,357.8 1611.1,324.9 1599,316 C1586.9,307.1 1575.7,295.5 1570,290 C1564.3,284.5 1553.7,273.9 1550,269 C1546.3,264.1 1540.1,252.1 1538,248 C1535.9,243.9 1532.6,238.6 1532,234 C1531.4,229.4 1532.3,214.7 1532.5,209Z" fill="#1c1c1c" />
<path d="M1532.5,209 C1532.3,203.5 1533.4,190.2 1534,185 C1534.6,179.8 1534.8,169.5 1537.4,164.5 C1540.0,159.5 1552.4,145.3 1556,142 C1559.6,138.7 1566.0,136.6 1568.5,136 C1571.0,135.4 1575.1,138.2 1577,137.2 C1578.9,136.2 1580.5,129.9 1584.6,127.3 C1588.7,124.7 1605.9,117.1 1612,114.8 C1618.1,112.5 1631.7,109.4 1636.8,107.4 C1641.9,105.4 1649.6,98.9 1655.4,97.5 C1661.2,96.1 1678.5,95.6 1686.5,95.6 C1694.5,95.6 1718.4,97.0 1723.8,97.5 C1729.2,98.0 1730.7,98.3 1732.4,100 C1734.1,101.7 1736.6,111.4 1738.6,112 C1740.6,112.6 1744.0,104.4 1749.8,104.9 C1755.6,105.4 1782.5,113.7 1788.3,116 C1794.1,118.3 1797.3,122.0 1799.5,124.8 C1801.7,127.6 1805.3,139.1 1807,140 C1808.7,140.9 1810.1,131.2 1814.4,132.2 C1818.7,133.2 1839.1,144.2 1844.2,148.4 C1849.3,152.6 1855.4,164.8 1857.9,168 C1860.4,171.2 1861.8,173.2 1865.3,175.7 C1868.8,178.2 1883.7,185.6 1887.7,189.4 C1891.7,193.2 1897.8,203.7 1900,208 C1902.2,212.3 1904.7,221.5 1906.3,226.6 C1907.9,231.7 1912.6,245.7 1913.8,251.5 C1915.0,257.3 1916.5,271.8 1916.3,276.3 C1916.1,280.8 1915.1,285.8 1912,290 C1908.9,294.2 1896.1,306.8 1890,312 C1883.9,317.2 1868.2,330.3 1860,335 C1851.8,339.7 1829.3,348.9 1820,352 C1810.7,355.1 1788.4,360.6 1780,362 C1771.6,363.4 1757.3,365.4 1748,364 C1738.7,362.6 1711.4,354.6 1700,350 C1688.6,345.4 1661.8,331.3 1650,325 C1638.2,318.7 1608.9,302.6 1599,296 C1589.1,289.4 1571.3,273.6 1565,268 C1558.7,262.4 1548.4,252.2 1545,248 C1541.6,243.8 1537.5,236.6 1536,232 C1534.5,227.4 1532.7,214.5 1532.5,209Z" fill="#2a2929" />
<path d="M1536,232 C1537.5,234.7 1540.2,242.0 1545,248 C1549.8,254.0 1556.0,260.0 1565,268 C1574.0,276.0 1584.8,286.5 1599,296 C1613.2,305.5 1633.2,316.0 1650,325 C1666.8,334.0 1683.7,343.5 1700,350 C1716.3,356.5 1734.7,362.0 1748,364 C1761.3,366.0 1774.7,362.3 1780,362" fill="none" stroke="#3a3a3a" stroke-width="2" />
<path d="M1614,127 C1615.3,122.3 1619.3,119.5 1624,117 C1628.7,114.5 1640.7,110.1 1649,108.6 C1657.3,107.1 1676.5,105.7 1686.5,106 C1696.5,106.3 1716.2,109.3 1724,111 C1731.8,112.7 1738.9,115.3 1745,118.6 C1751.1,121.9 1764.0,131.1 1770,136 C1776.0,140.9 1785.1,149.5 1790,155 C1794.9,160.5 1803.8,171.5 1807,177 C1810.2,182.5 1814.9,190.9 1814,196 C1813.1,201.1 1807.2,211.5 1800,215 C1792.8,218.5 1770.7,221.1 1760,222 C1749.3,222.9 1729.9,223.1 1720,222 C1710.1,220.9 1695.5,217.5 1686,214 C1676.5,210.5 1657.3,200.9 1649,196 C1640.7,191.1 1628.7,182.9 1624,177 C1619.3,171.1 1615.3,158.7 1614,152 C1612.7,145.3 1612.7,131.7 1614,127Z" fill="#222121" />
<path d="M1776,400 C1779.2,400.5 1779.3,407.7 1795,403 C1810.7,398.3 1845.8,382.5 1870,372 C1894.2,361.5 1925.8,349.0 1940,340 C1954.2,331.0 1954.0,324.7 1955,318 C1956.0,311.3 1951.5,303.7 1946,300 C1940.5,296.3 1926.0,296.7 1922,296" fill="none" stroke="#767676" stroke-width="17" stroke-linecap="round" stroke-linejoin="round"/>
<path d="M1790,396 C1803.3,390.8 1845.8,375.3 1870,365 C1894.2,354.7 1922.0,342.2 1935,334 C1948.0,325.8 1945.8,319.0 1948,316" fill="none" stroke="#858585" stroke-width="4" stroke-linecap="round"/>
<path d="M1902,282 L1918,282 L1925,300 L1908,306Z" fill="#111" />
<path d="M1748,380 L1766,376 L1776,398 L1758,402Z" fill="#111" />
<path d="M1537,165 C1537.5,162.4 1542.3,155.8 1545,154 C1547.7,152.2 1555.3,150.6 1560,150 C1564.7,149.4 1580.3,148.7 1585,149 C1589.7,149.3 1598.1,151.7 1600,153 C1601.9,154.3 1601.6,158.1 1601,160 C1600.4,161.9 1598.0,167.1 1595,169 C1592.0,170.9 1579.5,174.8 1575,176 C1570.5,177.2 1560.0,179.0 1556,179 C1552.0,179.0 1543.2,177.6 1541,176 C1538.8,174.4 1536.5,167.6 1537,165Z" fill="#7a7a7a" />
<path d="M1540.9,164.772 C1541.3,162.5 1545.6,156.6 1547.94,155.092 C1550.3,153.6 1557.0,152.1 1561.14,151.572 C1565.2,151.1 1579.0,150.4 1583.14,150.692 C1587.2,151.0 1594.7,153.1 1596.34,154.212 C1598.0,155.3 1597.7,158.7 1597.22,160.372 C1596.7,162.0 1594.6,166.6 1591.94,168.292 C1589.3,169.9 1578.3,173.4 1574.34,174.452 C1570.3,175.5 1561.1,177.1 1557.62,177.092 C1554.1,177.1 1546.4,175.9 1544.42,174.452 C1542.5,173.0 1540.5,167.0 1540.9,164.772Z" fill="#3c3c3c" />
<path d="M1551.62,164.145 C1551.9,162.7 1554.5,159.1 1556.03,158.095 C1557.5,157.1 1561.7,156.2 1564.28,155.895 C1566.8,155.6 1575.5,155.2 1578.03,155.345 C1580.6,155.5 1585.2,156.8 1586.28,157.545 C1587.3,158.3 1587.1,160.4 1586.83,161.395 C1586.5,162.4 1585.2,165.3 1583.53,166.345 C1581.9,167.4 1575.0,169.6 1572.53,170.195 C1570.0,170.8 1564.3,171.8 1562.08,171.845 C1559.9,171.8 1555.0,171.1 1553.83,170.195 C1552.6,169.3 1551.4,165.6 1551.62,164.145Z" fill="#2a2a2a" />
<path d="M1547,193 C1549.0,189.3 1557.3,183.9 1562,182 C1566.7,180.1 1581.2,177.3 1587,177 C1592.8,176.7 1608.2,178.0 1612,179.4 C1615.8,180.8 1619.4,186.8 1619.4,189.4 C1619.4,192.0 1615.8,199.2 1612,201.8 C1608.2,204.4 1592.4,210.1 1587,211.7 C1581.6,213.3 1569.4,213.4 1566,215.5 C1562.6,217.6 1559.3,226.1 1558,230 C1556.7,233.9 1556.2,248.4 1555,249 C1553.8,249.6 1549.2,239.1 1548,235 C1546.8,230.9 1545.1,218.9 1545,214 C1544.9,209.1 1545.0,196.7 1547,193Z" fill="#7a7a7a" />
<path d="M1549.79,194.348 C1551.6,191.0 1559.1,186.1 1563.29,184.448 C1567.5,182.8 1580.5,180.2 1585.79,179.948 C1591.0,179.7 1604.9,180.8 1608.29,182.108 C1611.7,183.4 1614.9,188.8 1614.95,191.108 C1614.9,193.5 1611.7,199.9 1608.29,202.268 C1604.9,204.6 1590.6,209.7 1585.79,211.178 C1581.0,212.6 1569.9,212.7 1566.89,214.598 C1563.8,216.5 1560.8,224.1 1559.69,227.648 C1558.5,231.2 1558.0,244.2 1556.99,244.748 C1555.9,245.3 1551.7,235.8 1550.69,232.148 C1549.6,228.5 1548.1,217.7 1547.99,213.248 C1547.9,208.8 1548.0,197.7 1549.79,194.348Z" fill="#3a3a3a" />
<path d="M1565,190 C1568.7,187.4 1594.8,185.4 1600,186 C1605.2,186.6 1611.2,192.8 1610,195 C1608.8,197.2 1594.9,203.5 1590,205 C1585.1,206.5 1570.9,209.8 1568,208 C1565.1,206.2 1561.3,192.6 1565,190Z" fill="#1a1a1a" />
<path d="M1582,226.6 C1583.5,225.3 1591.1,223.8 1594.6,221.7 C1598.1,219.6 1607.1,211.3 1612,209 C1616.9,206.7 1631.7,202.1 1636.8,201.8 C1641.9,201.5 1652.6,204.6 1655.4,206.8 C1658.2,209.0 1660.7,217.4 1660.4,220.4 C1660.1,223.4 1657.2,229.6 1653,232.9 C1648.8,236.2 1629.2,245.1 1624.4,249 C1619.6,252.9 1613.7,262.3 1612,266.4 C1610.3,270.5 1611.5,282.1 1609.5,283.8 C1607.5,285.5 1596.6,286.5 1594.6,281.3 C1592.6,276.1 1593.5,244.6 1592,239 C1590.5,233.4 1583.2,234.3 1582,232.9 C1580.8,231.5 1580.5,227.9 1582,226.6Z" fill="#7a7a7a" />
<path d="M1585.41,227.568 C1586.7,226.4 1593.6,225.0 1596.75,223.158 C1599.9,221.3 1608.0,213.8 1612.41,211.728 C1616.8,209.6 1630.2,205.5 1634.73,205.248 C1639.3,205.0 1649.0,207.8 1651.47,209.748 C1653.9,211.7 1656.2,219.2 1655.97,221.988 C1655.7,224.7 1653.1,230.2 1649.31,233.238 C1645.5,236.2 1627.9,244.2 1623.57,247.728 C1619.3,251.2 1614.0,259.7 1612.41,263.388 C1610.8,267.0 1612.0,277.5 1610.16,279.048 C1608.3,280.6 1598.6,281.5 1596.75,276.798 C1594.9,272.1 1595.7,243.8 1594.41,238.728 C1593.1,233.6 1586.5,234.5 1585.41,233.238 C1584.4,231.9 1584.1,228.7 1585.41,227.568Z" fill="#484848" />
<path d="M1603,232 C1605.3,228.7 1619.8,216.2 1625,214 C1630.2,211.8 1645.0,211.7 1648,213 C1651.0,214.3 1654.0,221.5 1651,225 C1648.0,228.5 1626.9,238.9 1622,243 C1617.1,247.1 1611.0,260.1 1609,260 C1607.0,259.9 1605.7,245.3 1605,242 C1604.3,238.7 1600.7,235.3 1603,232Z" fill="#141414" />
<path d="M1636.8,261.4 C1637.5,259.4 1642.7,253.6 1645,252 C1647.3,250.4 1653.3,250.5 1656.7,247.8 C1660.1,245.1 1669.8,231.6 1674,229 C1678.2,226.4 1688.3,225.1 1692.7,225.4 C1697.1,225.7 1708.1,229.3 1711.3,231.6 C1714.5,233.9 1719.4,241.8 1720,245.3 C1720.6,248.8 1718.8,256.3 1716.3,261.4 C1713.8,266.5 1701.3,282.0 1699,288.8 C1696.7,295.6 1699.3,315.9 1696.4,319.8 C1693.5,323.7 1677.6,327.4 1674,322.3 C1670.4,317.2 1668.3,282.5 1665.4,276.3 C1662.5,270.1 1652.2,269.8 1649.2,268.9 C1646.2,268.0 1640.7,269.8 1639.3,268.9 C1637.9,268.0 1636.1,263.4 1636.8,261.4Z" fill="#7a7a7a" />
<path d="M1640.81,261.681 C1641.4,259.9 1646.1,254.6 1648.19,253.221 C1650.3,251.8 1655.7,251.9 1658.72,249.441 C1661.8,247.0 1670.5,234.9 1674.29,232.521 C1678.1,230.2 1687.2,229.0 1691.12,229.281 C1695.0,229.6 1705.0,232.8 1707.86,234.861 C1710.7,237.0 1715.2,244.1 1715.69,247.191 C1716.2,250.3 1714.6,257.1 1712.36,261.681 C1710.2,266.2 1698.9,280.2 1696.79,286.341 C1694.7,292.5 1697.1,310.7 1694.45,314.241 C1691.8,317.8 1677.5,321.1 1674.29,316.491 C1671.0,311.9 1669.2,280.7 1666.55,275.091 C1663.9,269.5 1654.7,269.2 1651.97,268.431 C1649.2,267.7 1644.4,269.2 1643.06,268.431 C1641.8,267.6 1640.2,263.5 1640.81,261.681Z" fill="#4a4a4a" />
<path d="M1676,240 C1679.6,237.9 1695.9,233.3 1700,234 C1704.1,234.7 1710.4,242.3 1711,246 C1711.6,249.7 1707.2,259.1 1705,266 C1702.8,272.9 1694.9,300.8 1692,305 C1689.1,309.2 1682.2,305.9 1680,302 C1677.8,298.1 1674.3,277.8 1673,272 C1671.7,266.2 1668.7,255.7 1669,252 C1669.3,248.3 1672.4,242.1 1676,240Z" fill="#101010" />
<path d="M1643,122.3 C1644.6,121.6 1654.5,120.4 1656.7,121 C1658.9,121.6 1655.5,126.1 1661.6,127.3 C1667.7,128.5 1702.2,128.1 1708.9,131 C1715.6,133.9 1721.4,146.8 1718.8,152 C1716.2,157.2 1693.9,173.4 1686.5,175.7 C1679.1,178.0 1660.0,173.9 1655.4,172 C1650.8,170.1 1648.1,164.8 1646.7,159.6 C1645.3,154.4 1643.4,131.7 1643,127.3 C1642.6,122.9 1641.4,123.0 1643,122.3Z" fill="#7a7a7a" />
<path d="M1646.11,124.8 C1647.5,124.2 1656.3,123.1 1658.17,123.656 C1660.1,124.2 1657.1,128.2 1662.48,129.2 C1667.8,130.2 1698.2,129.9 1704.11,132.456 C1710.0,135.0 1715.1,146.3 1712.82,150.936 C1710.5,155.5 1690.9,169.7 1684.39,171.792 C1677.9,173.8 1661.1,170.2 1657.03,168.536 C1652.9,166.9 1650.6,162.2 1649.37,157.624 C1648.1,153.0 1646.5,133.0 1646.11,129.2 C1645.7,125.4 1644.7,125.4 1646.11,124.8Z" fill="#5c5c5c" />
<path d="M1652,150 C1658.4,148.1 1708.0,149.7 1712,152 C1716.0,154.3 1692.4,168.1 1686,170 C1679.6,171.9 1661.0,170.3 1657,168 C1653.0,165.7 1645.6,151.9 1652,150Z" fill="#0a0a0a" />
<path d="M1648,185.7 C1648.4,183.5 1656.9,180.4 1659.2,180.7 C1661.5,181.0 1663.3,187.3 1667.9,188 C1672.5,188.7 1692.5,186.5 1699,187 C1705.5,187.5 1720.0,190.5 1723.8,191.9 C1727.6,193.3 1729.8,196.7 1731.2,199.3 C1732.6,201.9 1735.7,211.7 1736,214 C1736.3,216.3 1738.8,218.5 1733.7,219.2 C1728.6,219.9 1700.4,221.7 1692.7,220.4 C1685.0,219.1 1672.3,210.5 1667.9,208 C1663.5,205.5 1657.7,201.9 1655.4,199.3 C1653.1,196.7 1647.6,187.9 1648,185.7Z" fill="#7a7a7a" />
<path d="M1653.31,187.345 C1653.7,185.4 1661.1,182.7 1663.17,182.945 C1665.2,183.2 1666.7,188.7 1670.82,189.369 C1674.9,190.0 1692.5,188.1 1698.19,188.489 C1703.9,188.9 1716.7,191.5 1720.01,192.801 C1723.3,194.1 1725.3,197.0 1726.53,199.313 C1727.8,201.6 1730.5,210.2 1730.75,212.249 C1731.0,214.3 1733.2,216.2 1728.73,216.825 C1724.3,217.5 1699.4,219.0 1692.65,217.881 C1685.9,216.7 1674.7,209.1 1670.82,206.969 C1667.0,204.8 1661.9,201.6 1659.82,199.313 C1657.8,197.0 1652.9,189.3 1653.31,187.345Z" fill="#4c4c4c" />
<path d="M1695,222 C1698.5,219.0 1729.2,222.6 1735,220 C1740.8,217.4 1741.8,202.6 1745,200 C1748.2,197.4 1756.8,197.1 1762,198 C1767.2,198.9 1789.3,205.9 1790,208 C1790.7,210.1 1772.4,212.3 1768,216 C1763.6,219.7 1755.8,236.0 1752,240 C1748.2,244.0 1740.5,249.3 1735,250 C1729.5,250.7 1709.7,249.3 1705,246 C1700.3,242.7 1691.5,225.0 1695,222Z" fill="#080808" />
<path d="M1730,139.7 C1731.2,137.1 1739.8,134.4 1742.4,134.7 C1745.0,135.0 1750.4,139.9 1752.3,142.2 C1754.2,144.5 1756.0,152.3 1758.5,154.6 C1761.0,156.9 1769.8,160.0 1773.4,162 C1777.0,164.0 1786.0,168.8 1789.6,172 C1793.2,175.2 1802.5,185.9 1804.5,189.4 C1806.5,192.9 1807.9,199.9 1807,201.8 C1806.1,203.7 1800.5,205.5 1797,205.5 C1793.5,205.5 1781.6,202.8 1777,201.8 C1772.4,200.8 1761.5,197.7 1757.3,196.8 C1753.1,195.9 1743.9,195.2 1741,194.3 C1738.1,193.4 1734.0,192.3 1732.4,189.4 C1730.8,186.5 1727.5,173.3 1727.5,169.5 C1727.5,165.7 1732.1,160.5 1732.4,157 C1732.7,153.5 1728.8,142.3 1730,139.7Z" fill="#7a7a7a" />
<path d="M1733.15,143.135 C1734.2,140.8 1742.0,138.4 1744.31,138.635 C1746.7,138.9 1751.5,143.3 1753.22,145.385 C1754.9,147.5 1756.6,154.5 1758.8,156.545 C1761.0,158.6 1768.9,161.4 1772.21,163.205 C1775.5,165.0 1783.5,169.3 1786.79,172.205 C1790.1,175.1 1798.4,184.7 1800.2,187.865 C1802.0,191.0 1803.2,197.3 1802.45,199.025 C1801.7,200.7 1796.6,202.4 1793.45,202.355 C1790.3,202.4 1779.6,199.9 1775.45,199.025 C1771.3,198.1 1761.5,195.3 1757.72,194.525 C1753.9,193.7 1745.7,193.1 1743.05,192.275 C1740.4,191.5 1736.7,190.5 1735.31,187.865 C1733.9,185.3 1730.9,173.4 1730.9,169.955 C1730.9,166.6 1735.0,161.8 1735.31,158.705 C1735.6,155.6 1732.1,145.5 1733.15,143.135Z" fill="#4a4a4a" />
<path d="M1740,165 C1742.6,163.4 1754.4,167.1 1760,170 C1765.6,172.9 1786.8,186.8 1788,190 C1789.2,193.2 1774.9,196.5 1770,197 C1765.1,197.5 1749.7,195.5 1746,194 C1742.3,192.5 1738.7,187.4 1738,184 C1737.3,180.6 1737.4,166.6 1740,165Z" fill="#0c0c0c" />
<path d="M1749.8,107.4 C1752.9,107.1 1769.8,108.8 1775,110 C1780.2,111.2 1790.8,113.8 1794.5,117.3 C1798.2,120.8 1806.4,135.8 1807,139.7 C1807.6,143.6 1803.9,149.7 1799.5,150.9 C1795.1,152.1 1774.8,151.2 1769.7,149.6 C1764.6,148.0 1758.5,141.5 1756,137.2 C1753.5,132.9 1749.3,115.9 1748.6,112.4 C1747.9,108.9 1746.7,107.7 1749.8,107.4Z" fill="#7a7a7a" />
<path d="M1752.83,109.88 C1755.5,109.6 1770.4,111.2 1775,112.168 C1779.6,113.2 1788.9,115.5 1792.16,118.591 C1795.4,121.6 1802.6,134.9 1803.16,138.303 C1803.7,141.8 1800.4,147.1 1796.56,148.16 C1792.7,149.2 1774.8,148.4 1770.34,147.016 C1765.9,145.6 1760.4,139.9 1758.28,136.103 C1756.1,132.3 1752.4,117.3 1751.77,114.279 C1751.1,111.2 1750.1,110.1 1752.83,109.88Z" fill="#353535" />
<path d="M1802,155.8 C1803.9,153.2 1814.5,154.5 1819.4,154.6 C1824.3,154.7 1839.6,155.1 1844.2,157 C1848.8,158.9 1858.3,166.9 1859,170.7 C1859.7,174.5 1855.0,186.9 1850.4,189.4 C1845.8,191.9 1824.9,193.3 1819.4,191.9 C1813.9,190.5 1805.2,181.2 1803.2,177 C1801.2,172.8 1800.1,158.4 1802,155.8Z" fill="#7a7a7a" />
<path d="M1805.15,157.614 C1806.8,155.3 1816.1,156.4 1820.46,156.558 C1824.8,156.7 1838.2,157.0 1842.28,158.67 C1846.3,160.3 1854.7,167.4 1855.31,170.726 C1855.9,174.1 1851.8,185.0 1847.74,187.182 C1843.7,189.4 1825.3,190.7 1820.46,189.382 C1815.6,188.1 1808.0,180.0 1806.2,176.27 C1804.4,172.6 1803.5,159.9 1805.15,157.614Z" fill="#383838" />
<path d="M1831.8,213 C1834.4,210.5 1850.8,200.3 1856.6,199.3 C1862.4,198.3 1876.3,201.8 1881.5,204.3 C1886.7,206.8 1898.5,216.4 1901.4,220.4 C1904.3,224.4 1907.9,236.4 1906.3,239 C1904.7,241.6 1892.8,242.4 1887.7,242.8 C1882.6,243.2 1869.1,245.4 1862.9,242.8 C1856.7,240.2 1837.9,223.9 1834.3,220.4 C1830.7,216.9 1829.2,215.5 1831.8,213Z" fill="#7a7a7a" />
<path d="M1836.42,214.17 C1838.7,212.0 1853.1,203.0 1858.25,202.114 C1863.3,201.2 1875.6,204.3 1880.16,206.514 C1884.8,208.7 1895.1,217.1 1897.67,220.682 C1900.2,224.2 1903.4,234.8 1901.98,237.05 C1900.6,239.3 1890.1,240.0 1885.61,240.394 C1881.2,240.8 1869.3,242.7 1863.79,240.394 C1858.3,238.1 1841.8,223.7 1838.62,220.682 C1835.4,217.6 1834.1,216.3 1836.42,214.17Z" fill="#383838" />
<path d="M1756,206.8 L1769.7,199.3 L1844.2,221.7 L1862.9,245.3 L1865.3,276.3 L1856.6,291.2 L1813.2,321 L1794.5,321 L1761,296.2 L1754.8,214.2Z" fill="#161616" />
<path d="M1767.2,208 L1854.2,235.3 L1860.4,273.9 L1807,311 L1767.2,286.3Z" fill="#7c7c7c" />
<path d="M1770.72,212.392 L1850.76,237.508 L1856.46,273.02 L1807.34,307.152 L1770.72,284.428Z" fill="#646464" />
<path d="M1775.9,256.5 L1850.4,277.6 L1844.2,283.8 L1809.4,307.4 L1774.7,286.3Z" fill="#050505" />
<path d="M1656,100 C1660.7,98.4 1690.4,96.0 1700,96 C1709.6,96.0 1733.3,98.6 1738,100 C1742.7,101.4 1744.4,106.6 1740,108 C1735.6,109.4 1709.3,111.8 1700,112 C1690.7,112.2 1665.1,111.4 1660,110 C1654.9,108.6 1651.3,101.6 1656,100Z" fill="#7a7a7a" />
<path d="M1662,102 C1666.2,101.0 1691.7,99.0 1700,99 C1708.3,99.0 1729.0,101.1 1733,102 C1737.0,102.9 1737.8,106.2 1734,107 C1730.2,107.8 1708.2,108.9 1700,109 C1691.8,109.1 1668.4,108.8 1664,108 C1659.6,107.2 1657.8,103.0 1662,102Z" fill="#3a3a3a" />
<g transform="translate(322.5,1497.5) rotate(-14)"><ellipse cx="0" cy="0" rx="36.1" ry="45.1" fill="none" stroke="#f0f0f0" stroke-width="3.8"/><ellipse cx="0" cy="1.41" rx="28.88" ry="36.66" fill="none" stroke="#f0f0f0" stroke-width="3.42"/><path d="M-20.9,25.85 Q-3.8,44.65 17.1,29.14" fill="none" stroke="#f0f0f0" stroke-width="4.94" stroke-linecap="round"/><path d="M9.5,32.9 Q24.7,21.15 27.36,2.35" fill="none" stroke="#f0f0f0" stroke-width="4.56" stroke-linecap="round"/><ellipse cx="1.52" cy="0" rx="20.9" ry="27.26" fill="none" stroke="#f0f0f0" stroke-width="5.7"/><ellipse cx="2.28" cy="0" rx="13.68" ry="19.74" fill="#e6e6e6"/><line x1="3.8" y1="-15.04" x2="3.04" y2="14.1" stroke="#151515" stroke-width="3.42" stroke-linecap="round"/><path d="M-4.56,-13.16 Q-11.4,0 -3.8,14.1" fill="none" stroke="#151515" stroke-width="2.66"/><g transform="rotate(36)"><rect x="-38" y="-4.94" width="76" height="9.88" fill="#151515"/><rect x="-37.24" y="-2.47" width="74.48" height="4.94" fill="#f0f0f0"/></g></g>
<g transform="translate(747.5,1544) rotate(14)"><ellipse cx="0" cy="0" rx="38.1" ry="59.1" fill="none" stroke="#f0f0f0" stroke-width="3.8"/><ellipse cx="0" cy="1.83" rx="30.4" ry="47.58" fill="none" stroke="#f0f0f0" stroke-width="3.42"/><path d="M-22,33.55 Q-4,57.95 18,37.82" fill="none" stroke="#f0f0f0" stroke-width="4.94" stroke-linecap="round"/><path d="M10,42.7 Q26,27.45 28.8,3.05" fill="none" stroke="#f0f0f0" stroke-width="4.56" stroke-linecap="round"/><ellipse cx="1.6" cy="0" rx="22" ry="35.38" fill="none" stroke="#f0f0f0" stroke-width="5.7"/><ellipse cx="2.4" cy="0" rx="14.4" ry="25.62" fill="#e6e6e6"/><line x1="4" y1="-19.52" x2="3.2" y2="18.3" stroke="#151515" stroke-width="3.42" stroke-linecap="round"/><path d="M-4.8,-17.08 Q-12,0 -4,18.3" fill="none" stroke="#151515" stroke-width="2.66"/><g transform="rotate(-30)"><rect x="-40" y="-4.94" width="80" height="9.88" fill="#151515"/><rect x="-39.2" y="-2.47" width="78.4" height="4.94" fill="#f0f0f0"/></g></g>
<g transform="translate(1320,1446) rotate(-20)"><ellipse cx="0" cy="0" rx="31.1" ry="49.1" fill="none" stroke="#f0f0f0" stroke-width="3.8"/><ellipse cx="0" cy="1.53" rx="25.08" ry="39.78" fill="none" stroke="#f0f0f0" stroke-width="3.42"/><path d="M-18.15,28.05 Q-3.3,48.45 14.85,31.62" fill="none" stroke="#f0f0f0" stroke-width="4.94" stroke-linecap="round"/><path d="M8.25,35.7 Q21.45,22.95 23.76,2.55" fill="none" stroke="#f0f0f0" stroke-width="4.56" stroke-linecap="round"/><ellipse cx="1.32" cy="0" rx="18.15" ry="29.58" fill="none" stroke="#f0f0f0" stroke-width="5.7"/><ellipse cx="1.98" cy="0" rx="11.88" ry="21.42" fill="#e6e6e6"/><line x1="3.3" y1="-16.32" x2="2.64" y2="15.3" stroke="#151515" stroke-width="3.42" stroke-linecap="round"/><path d="M-3.96,-14.28 Q-9.9,0 -3.3,15.3" fill="none" stroke="#151515" stroke-width="2.66"/><g transform="rotate(10)"><rect x="-33" y="-4.94" width="66" height="9.88" fill="#151515"/><rect x="-32.34" y="-2.47" width="64.68" height="4.94" fill="#f0f0f0"/></g></g>
<g transform="translate(1761,1533) rotate(3)"><ellipse cx="0" cy="0" rx="55.68" ry="64.68" fill="none" stroke="#f0f0f0" stroke-width="4.64"/><ellipse cx="0" cy="2.01" rx="44.08" ry="52.26" fill="none" stroke="#f0f0f0" stroke-width="4.176"/><path d="M-31.9,36.85 Q-5.8,63.65 26.1,41.54" fill="none" stroke="#f0f0f0" stroke-width="6.032" stroke-linecap="round"/><path d="M14.5,46.9 Q37.7,30.15 41.76,3.35" fill="none" stroke="#f0f0f0" stroke-width="5.568" stroke-linecap="round"/><ellipse cx="2.32" cy="0" rx="31.9" ry="38.86" fill="none" stroke="#f0f0f0" stroke-width="6.96"/><ellipse cx="3.48" cy="0" rx="20.88" ry="28.14" fill="#e6e6e6"/><line x1="5.8" y1="-21.44" x2="4.64" y2="20.1" stroke="#151515" stroke-width="4.176" stroke-linecap="round"/><path d="M-6.96,-18.76 Q-17.4,0 -5.8,20.1" fill="none" stroke="#151515" stroke-width="3.248"/><g transform="rotate(-9)"><rect x="-58" y="-6.032" width="116" height="12.064" fill="#151515"/><rect x="-56.84" y="-3.016" width="113.68" height="6.032" fill="#f0f0f0"/></g></g>
<line x1="68" y1="179.5" x2="890" y2="179.5" stroke="#000" stroke-width="3" stroke-dasharray="12 6" stroke-dashoffset="0"/>
<line x1="98" y1="178" x2="98" y2="891.6" stroke="#000" stroke-width="6"/>
<line x1="98" y1="1022" x2="98" y2="1844" stroke="#000" stroke-width="6"/>
<line x1="779" y1="178" x2="779" y2="417" stroke="#000" stroke-width="6"/>
<line x1="779" y1="506" x2="779" y2="714" stroke="#000" stroke-width="6"/>
<line x1="713" y1="718" x2="882" y2="718" stroke="#000" stroke-width="3" stroke-dasharray="12 6" stroke-dashoffset="0"/>
<line x1="66" y1="1845" x2="400" y2="1845" stroke="#000" stroke-width="3" stroke-dasharray="12 6" stroke-dashoffset="0"/>
<line x1="209.5" y1="1477" x2="209.5" y2="1827" stroke="#000" stroke-width="3" stroke-dasharray="12 6" stroke-dashoffset="0"/>
<line x1="803" y1="1673" x2="803" y2="1901" stroke="#000" stroke-width="3" stroke-dasharray="12 6" stroke-dashoffset="0"/>
<line x1="481" y1="1734" x2="481" y2="1896" stroke="#fff" stroke-width="9" stroke-dasharray="8.5 9.5" stroke-dashoffset="16.5" stroke-linecap="round"/>
<line x1="481" y1="1734" x2="481" y2="1896" stroke="#000" stroke-width="3" stroke-dasharray="11.5 6.5" stroke-dashoffset="0"/>
<line x1="481" y1="1897" x2="481" y2="1946" stroke="#000" stroke-width="3" stroke-dasharray="12 6" stroke-dashoffset="0"/>
<line x1="211.7" y1="1811" x2="481" y2="1897.2" stroke="#000" stroke-width="4.8"/>
<line x1="481" y1="1897.2" x2="803.3" y2="1813.2" stroke="#000" stroke-width="4.8"/>
<line x1="1095" y1="467.6" x2="1551" y2="467.6" stroke="#000" stroke-width="3" stroke-dasharray="12 6" stroke-dashoffset="0"/>
<line x1="1161" y1="466" x2="1161" y2="926" stroke="#000" stroke-width="6"/>
<line x1="1161" y1="1152" x2="1161" y2="1822" stroke="#000" stroke-width="6"/>
<line x1="1130" y1="1819.4" x2="1395" y2="1819.4" stroke="#000" stroke-width="3" stroke-dasharray="12 6" stroke-dashoffset="0"/>
<line x1="1239" y1="1842" x2="1396" y2="1800" stroke="#000" stroke-width="3" stroke-dasharray="12 6" stroke-dashoffset="0"/>
<line x1="1396" y1="1800" x2="1497" y2="1774" stroke="#fff" stroke-width="9" stroke-dasharray="8.5 9.5" stroke-dashoffset="16.5" stroke-linecap="round"/>
<line x1="1396" y1="1800" x2="1497" y2="1774" stroke="#000" stroke-width="3" stroke-dasharray="11.5 6.5" stroke-dashoffset="0"/>
<line x1="1424" y1="1837" x2="1728" y2="1985" stroke="#000" stroke-width="3" stroke-dasharray="12 6" stroke-dashoffset="0"/>
<line x1="1402" y1="1947" x2="1690" y2="1858" stroke="#000" stroke-width="3" stroke-dasharray="12 6" stroke-dashoffset="0"/>
<line x1="1585" y1="1745" x2="1733" y2="1812" stroke="#fff" stroke-width="9" stroke-dasharray="8.5 9.5" stroke-dashoffset="16.5" stroke-linecap="round"/>
<line x1="1585" y1="1745" x2="1733" y2="1812" stroke="#000" stroke-width="3" stroke-dasharray="11.5 6.5" stroke-dashoffset="0"/>
<line x1="1733" y1="1812" x2="1894" y2="1885" stroke="#000" stroke-width="3" stroke-dasharray="12 6" stroke-dashoffset="0"/>
<line x1="1301.6" y1="1824.5" x2="1473.6" y2="1928.7" stroke="#000" stroke-width="4.8"/>
<line x1="1624.8" y1="1929.8" x2="1815.8" y2="1846.8" stroke="#000" stroke-width="4.8"/>
<line x1="1649" y1="13" x2="1649" y2="70" stroke="#000" stroke-width="5.5"/>
<line x1="1430" y1="171.6" x2="1430" y2="228" stroke="#000" stroke-width="5.5"/>
<line x1="1646" y1="35" x2="1429.5" y2="202" stroke="#000" stroke-width="4.8"/>
<line x1="1429.5" y1="202" x2="1758" y2="470" stroke="#000" stroke-width="4.8"/>
<line x1="1778" y1="455" x2="1739" y2="494" stroke="#000" stroke-width="5.5"/>
<text x="41" y="932.2" font-family="Liberation Sans, sans-serif" font-weight="bold" font-size="45" fill="#f28b24" textLength="111" lengthAdjust="spacingAndGlyphs">51.6″</text>
<text x="28" y="1013.3" font-family="Liberation Sans, sans-serif" font-weight="bold" font-size="48" fill="#f28b24" textLength="140" lengthAdjust="spacingAndGlyphs">131cm</text>
<text x="730" y="486.5" font-family="Liberation Sans, sans-serif" font-weight="bold" font-size="44" fill="#f28b24" textLength="111" lengthAdjust="spacingAndGlyphs">16.7″</text>
<text x="1097" y="1011" font-family="Liberation Sans, sans-serif" font-weight="bold" font-size="44" fill="#f28b24" textLength="115" lengthAdjust="spacingAndGlyphs">41.3″</text>
<text x="1087" y="1090" font-family="Liberation Sans, sans-serif" font-weight="bold" font-size="45" fill="#f28b24" textLength="139" lengthAdjust="spacingAndGlyphs">105cm</text>
<text x="1463" y="103.3" font-family="Liberation Sans, sans-serif" font-weight="bold" font-size="44" fill="#f28b24" textLength="89" lengthAdjust="spacingAndGlyphs">9.1″</text>
<text x="1522" y="336" font-family="Liberation Sans, sans-serif" font-weight="bold" font-size="42" fill="#f28b24" textLength="112" lengthAdjust="spacingAndGlyphs" transform="rotate(39 1522 336)">13.4″</text>
<text x="211" y="1857" font-family="Liberation Sans, sans-serif" font-weight="bold" font-size="44" fill="#f28b24" textLength="241" lengthAdjust="spacingAndGlyphs" transform="rotate(17.6 211 1857)">17.3″ /44cm</text>
<text x="531" y="1940" font-family="Liberation Sans, sans-serif" font-weight="bold" font-size="43" fill="#f28b24" textLength="251" lengthAdjust="spacingAndGlyphs" transform="rotate(-13.8 531 1940)">13.4″ /34cm</text>
<text x="1305" y="1884" font-family="Liberation Sans, sans-serif" font-weight="bold" font-size="47" fill="#f28b24" textLength="104" lengthAdjust="spacingAndGlyphs" transform="rotate(37 1305 1884)">10.8″</text>
<text x="1734" y="1944" font-family="Liberation Sans, sans-serif" font-weight="bold" font-size="49" fill="#f28b24" textLength="86" lengthAdjust="spacingAndGlyphs" transform="rotate(-23 1734 1944)">9.1″</text>
</svg>
</body></html>
